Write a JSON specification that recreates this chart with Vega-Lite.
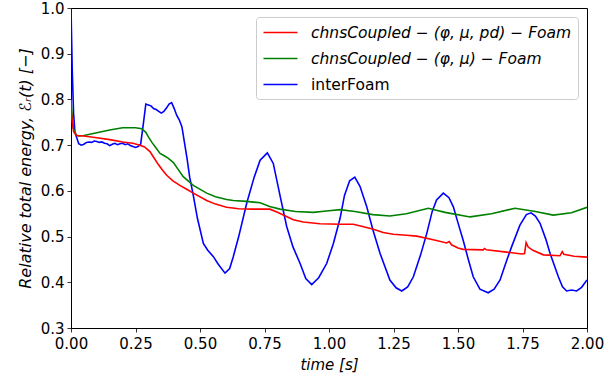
{
  "$schema": "https://vega.github.io/schema/vega-lite/v6.json",
  "width": 516,
  "height": 320,
  "autosize": {"type": "none"},
  "padding": {"left": 71, "top": 8, "right": 26, "bottom": 52},
  "config": {
    "font": "DejaVu Sans",
    "view": {"stroke": "black", "strokeWidth": 1},
    "axis": {"grid": false, "domainColor": "black", "tickColor": "#333333", "tickSize": 4, "labelColor": "black", "titleColor": "black", "labelFontSize": 15, "titleFontSize": 15, "titleFontWeight": "normal", "titleFontStyle": "italic", "labelFont": "DejaVu Sans", "titleFont": "DejaVu Sans", "labelFlush": false}
  },
  "datasets": {
    "curves": [
      {"t":0,"v":1.0,"s":"interFoam"},{"t":0.005,"v":0.86,"s":"interFoam"},{"t":0.01,"v":0.77,"s":"interFoam"},{"t":0.015,"v":0.73,"s":"interFoam"},{"t":0.02,"v":0.72,"s":"interFoam"},{"t":0.03,"v":0.703,"s":"interFoam"},{"t":0.04,"v":0.7,"s":"interFoam"},{"t":0.05,"v":0.702,"s":"interFoam"},{"t":0.06,"v":0.706,"s":"interFoam"},{"t":0.07,"v":0.707,"s":"interFoam"},{"t":0.08,"v":0.706,"s":"interFoam"},{"t":0.09,"v":0.709,"s":"interFoam"},{"t":0.1,"v":0.708,"s":"interFoam"},{"t":0.11,"v":0.706,"s":"interFoam"},{"t":0.12,"v":0.707,"s":"interFoam"},{"t":0.13,"v":0.704,"s":"interFoam"},{"t":0.14,"v":0.703,"s":"interFoam"},{"t":0.15,"v":0.699,"s":"interFoam"},{"t":0.16,"v":0.702,"s":"interFoam"},{"t":0.17,"v":0.704,"s":"interFoam"},{"t":0.18,"v":0.701,"s":"interFoam"},{"t":0.19,"v":0.703,"s":"interFoam"},{"t":0.2,"v":0.704,"s":"interFoam"},{"t":0.21,"v":0.701,"s":"interFoam"},{"t":0.22,"v":0.703,"s":"interFoam"},{"t":0.23,"v":0.699,"s":"interFoam"},{"t":0.24,"v":0.697,"s":"interFoam"},{"t":0.25,"v":0.695,"s":"interFoam"},{"t":0.26,"v":0.697,"s":"interFoam"},{"t":0.27,"v":0.702,"s":"interFoam"},{"t":0.28,"v":0.745,"s":"interFoam"},{"t":0.29,"v":0.79,"s":"interFoam"},{"t":0.3,"v":0.788,"s":"interFoam"},{"t":0.31,"v":0.786,"s":"interFoam"},{"t":0.32,"v":0.78,"s":"interFoam"},{"t":0.33,"v":0.778,"s":"interFoam"},{"t":0.34,"v":0.774,"s":"interFoam"},{"t":0.35,"v":0.77,"s":"interFoam"},{"t":0.36,"v":0.774,"s":"interFoam"},{"t":0.37,"v":0.781,"s":"interFoam"},{"t":0.38,"v":0.79,"s":"interFoam"},{"t":0.39,"v":0.793,"s":"interFoam"},{"t":0.4,"v":0.78,"s":"interFoam"},{"t":0.41,"v":0.765,"s":"interFoam"},{"t":0.42,"v":0.755,"s":"interFoam"},{"t":0.43,"v":0.74,"s":"interFoam"},{"t":0.44,"v":0.705,"s":"interFoam"},{"t":0.45,"v":0.67,"s":"interFoam"},{"t":0.46,"v":0.63,"s":"interFoam"},{"t":0.474,"v":0.59,"s":"interFoam"},{"t":0.49,"v":0.54,"s":"interFoam"},{"t":0.513,"v":0.485,"s":"interFoam"},{"t":0.53,"v":0.47,"s":"interFoam"},{"t":0.552,"v":0.456,"s":"interFoam"},{"t":0.57,"v":0.44,"s":"interFoam"},{"t":0.597,"v":0.42,"s":"interFoam"},{"t":0.615,"v":0.43,"s":"interFoam"},{"t":0.629,"v":0.456,"s":"interFoam"},{"t":0.65,"v":0.5,"s":"interFoam"},{"t":0.681,"v":0.573,"s":"interFoam"},{"t":0.71,"v":0.63,"s":"interFoam"},{"t":0.733,"v":0.667,"s":"interFoam"},{"t":0.761,"v":0.683,"s":"interFoam"},{"t":0.784,"v":0.66,"s":"interFoam"},{"t":0.81,"v":0.59,"s":"interFoam"},{"t":0.836,"v":0.522,"s":"interFoam"},{"t":0.86,"v":0.478,"s":"interFoam"},{"t":0.888,"v":0.441,"s":"interFoam"},{"t":0.91,"v":0.408,"s":"interFoam"},{"t":0.933,"v":0.395,"s":"interFoam"},{"t":0.96,"v":0.41,"s":"interFoam"},{"t":0.991,"v":0.441,"s":"interFoam"},{"t":1.017,"v":0.485,"s":"interFoam"},{"t":1.043,"v":0.54,"s":"interFoam"},{"t":1.06,"v":0.59,"s":"interFoam"},{"t":1.08,"v":0.622,"s":"interFoam"},{"t":1.1,"v":0.63,"s":"interFoam"},{"t":1.12,"v":0.61,"s":"interFoam"},{"t":1.146,"v":0.566,"s":"interFoam"},{"t":1.17,"v":0.515,"s":"interFoam"},{"t":1.198,"v":0.463,"s":"interFoam"},{"t":1.236,"v":0.405,"s":"interFoam"},{"t":1.26,"v":0.388,"s":"interFoam"},{"t":1.282,"v":0.381,"s":"interFoam"},{"t":1.305,"v":0.39,"s":"interFoam"},{"t":1.327,"v":0.412,"s":"interFoam"},{"t":1.355,"v":0.46,"s":"interFoam"},{"t":1.379,"v":0.507,"s":"interFoam"},{"t":1.4,"v":0.555,"s":"interFoam"},{"t":1.417,"v":0.58,"s":"interFoam"},{"t":1.443,"v":0.595,"s":"interFoam"},{"t":1.465,"v":0.585,"s":"interFoam"},{"t":1.482,"v":0.565,"s":"interFoam"},{"t":1.5,"v":0.53,"s":"interFoam"},{"t":1.52,"v":0.492,"s":"interFoam"},{"t":1.54,"v":0.45,"s":"interFoam"},{"t":1.559,"v":0.412,"s":"interFoam"},{"t":1.585,"v":0.385,"s":"interFoam"},{"t":1.617,"v":0.377,"s":"interFoam"},{"t":1.64,"v":0.385,"s":"interFoam"},{"t":1.663,"v":0.405,"s":"interFoam"},{"t":1.69,"v":0.45,"s":"interFoam"},{"t":1.708,"v":0.478,"s":"interFoam"},{"t":1.74,"v":0.525,"s":"interFoam"},{"t":1.765,"v":0.548,"s":"interFoam"},{"t":1.783,"v":0.552,"s":"interFoam"},{"t":1.8,"v":0.545,"s":"interFoam"},{"t":1.818,"v":0.529,"s":"interFoam"},{"t":1.84,"v":0.495,"s":"interFoam"},{"t":1.857,"v":0.463,"s":"interFoam"},{"t":1.889,"v":0.412,"s":"interFoam"},{"t":1.905,"v":0.39,"s":"interFoam"},{"t":1.921,"v":0.381,"s":"interFoam"},{"t":1.94,"v":0.383,"s":"interFoam"},{"t":1.96,"v":0.381,"s":"interFoam"},{"t":1.979,"v":0.389,"s":"interFoam"},{"t":2.0,"v":0.405,"s":"interFoam"},

      {"t":0,"v":0.8,"s":"B"},{"t":0.005,"v":0.76,"s":"B"},{"t":0.01,"v":0.735,"s":"B"},{"t":0.02,"v":0.722,"s":"B"},{"t":0.03,"v":0.72,"s":"B"},{"t":0.05,"v":0.721,"s":"B"},{"t":0.1,"v":0.727,"s":"B"},{"t":0.15,"v":0.733,"s":"B"},{"t":0.2,"v":0.738,"s":"B"},{"t":0.25,"v":0.738,"s":"B"},{"t":0.274,"v":0.736,"s":"B"},{"t":0.29,"v":0.728,"s":"B"},{"t":0.3,"v":0.718,"s":"B"},{"t":0.315,"v":0.705,"s":"B"},{"t":0.332,"v":0.692,"s":"B"},{"t":0.345,"v":0.682,"s":"B"},{"t":0.358,"v":0.678,"s":"B"},{"t":0.375,"v":0.672,"s":"B"},{"t":0.397,"v":0.662,"s":"B"},{"t":0.415,"v":0.647,"s":"B"},{"t":0.435,"v":0.631,"s":"B"},{"t":0.474,"v":0.612,"s":"B"},{"t":0.526,"v":0.595,"s":"B"},{"t":0.56,"v":0.587,"s":"B"},{"t":0.603,"v":0.581,"s":"B"},{"t":0.629,"v":0.579,"s":"B"},{"t":0.68,"v":0.577,"s":"B"},{"t":0.733,"v":0.574,"s":"B"},{"t":0.77,"v":0.566,"s":"B"},{"t":0.81,"v":0.56,"s":"B"},{"t":0.87,"v":0.555,"s":"B"},{"t":0.939,"v":0.553,"s":"B"},{"t":0.99,"v":0.556,"s":"B"},{"t":1.043,"v":0.559,"s":"B"},{"t":1.1,"v":0.555,"s":"B"},{"t":1.17,"v":0.548,"s":"B"},{"t":1.236,"v":0.545,"s":"B"},{"t":1.3,"v":0.55,"s":"B"},{"t":1.385,"v":0.562,"s":"B"},{"t":1.45,"v":0.553,"s":"B"},{"t":1.547,"v":0.543,"s":"B"},{"t":1.63,"v":0.55,"s":"B"},{"t":1.721,"v":0.562,"s":"B"},{"t":1.8,"v":0.555,"s":"B"},{"t":1.869,"v":0.547,"s":"B"},{"t":1.94,"v":0.552,"s":"B"},{"t":2.0,"v":0.564,"s":"B"},

      {"t":0,"v":0.78,"s":"A"},{"t":0.005,"v":0.75,"s":"A"},{"t":0.01,"v":0.73,"s":"A"},{"t":0.02,"v":0.721,"s":"A"},{"t":0.05,"v":0.72,"s":"A"},{"t":0.1,"v":0.716,"s":"A"},{"t":0.15,"v":0.712,"s":"A"},{"t":0.2,"v":0.707,"s":"A"},{"t":0.24,"v":0.704,"s":"A"},{"t":0.267,"v":0.7,"s":"A"},{"t":0.285,"v":0.696,"s":"A"},{"t":0.306,"v":0.686,"s":"A"},{"t":0.322,"v":0.672,"s":"A"},{"t":0.338,"v":0.658,"s":"A"},{"t":0.355,"v":0.645,"s":"A"},{"t":0.371,"v":0.634,"s":"A"},{"t":0.395,"v":0.622,"s":"A"},{"t":0.422,"v":0.612,"s":"A"},{"t":0.45,"v":0.603,"s":"A"},{"t":0.474,"v":0.595,"s":"A"},{"t":0.526,"v":0.579,"s":"A"},{"t":0.56,"v":0.571,"s":"A"},{"t":0.603,"v":0.564,"s":"A"},{"t":0.65,"v":0.561,"s":"A"},{"t":0.7,"v":0.56,"s":"A"},{"t":0.771,"v":0.56,"s":"A"},{"t":0.8,"v":0.553,"s":"A"},{"t":0.862,"v":0.537,"s":"A"},{"t":0.9,"v":0.532,"s":"A"},{"t":0.965,"v":0.528,"s":"A"},{"t":1.043,"v":0.527,"s":"A"},{"t":1.094,"v":0.527,"s":"A"},{"t":1.13,"v":0.522,"s":"A"},{"t":1.172,"v":0.516,"s":"A"},{"t":1.21,"v":0.509,"s":"A"},{"t":1.249,"v":0.505,"s":"A"},{"t":1.3,"v":0.503,"s":"A"},{"t":1.34,"v":0.501,"s":"A"},{"t":1.404,"v":0.493,"s":"A"},{"t":1.456,"v":0.486,"s":"A"},{"t":1.466,"v":0.489,"s":"A"},{"t":1.475,"v":0.482,"s":"A"},{"t":1.5,"v":0.475,"s":"A"},{"t":1.52,"v":0.472,"s":"A"},{"t":1.598,"v":0.471,"s":"A"},{"t":1.603,"v":0.474,"s":"A"},{"t":1.61,"v":0.471,"s":"A"},{"t":1.688,"v":0.466,"s":"A"},{"t":1.747,"v":0.462,"s":"A"},{"t":1.758,"v":0.463,"s":"A"},{"t":1.764,"v":0.487,"s":"A"},{"t":1.772,"v":0.477,"s":"A"},{"t":1.79,"v":0.47,"s":"A"},{"t":1.831,"v":0.46,"s":"A"},{"t":1.895,"v":0.458,"s":"A"},{"t":1.904,"v":0.467,"s":"A"},{"t":1.91,"v":0.461,"s":"A"},{"t":1.95,"v":0.457,"s":"A"},{"t":2.0,"v":0.455,"s":"A"}
    ]
  },
  "data": {"name": "curves"},
  "transform": [
    {"calculate": "datum.s === 'A' ? 'chnsCoupled − (φ, μ, pd) − Foam' : datum.s === 'B' ? 'chnsCoupled − (φ, μ) − Foam' : 'interFoam'", "as": "series"}
  ],
  "mark": {"type": "line", "strokeWidth": 1.6, "clip": true},
  "encoding": {
    "x": {"field": "t", "type": "quantitative", "scale": {"domain": [0, 2], "nice": false},
      "axis": {"values": [0, 0.25, 0.5, 0.75, 1, 1.25, 1.5, 1.75, 2], "format": ".2f", "title": "time [s]", "titlePadding": 6, "labelPadding": 4}},
    "y": {"field": "v", "type": "quantitative", "scale": {"domain": [0.3, 1.0], "nice": false, "zero": false},
      "axis": {"values": [0.3, 0.4, 0.5, 0.6, 0.7, 0.8, 0.9, 1.0], "format": ".1f", "title": "Relative total energy,  ℰᵣ(t) [−]", "titleFontSize": 16, "titlePadding": 7, "labelPadding": 3}},
    "color": {"field": "series", "type": "nominal",
      "scale": {"domain": ["chnsCoupled − (φ, μ, pd) − Foam", "chnsCoupled − (φ, μ) − Foam", "interFoam"], "range": ["#ff0000", "#008000", "#0000ff"]},
      "legend": {"title": null, "orient": "top-right", "offset": 9, "symbolType": "M-2,0H2", "symbolStrokeWidth": 1.6, "symbolSize": 289, "symbolOffset": 9, "labelFontSize": 15.5, "labelFont": "DejaVu Sans", "labelColor": "black", "labelLimit": 0, "fillColor": "white", "strokeColor": "#cccccc", "cornerRadius": 3, "padding": 6, "rowPadding": 8, "labelOffset": 21,
        "encode": {"labels": {"update": {"fontStyle": {"signal": "datum.value === 'interFoam' ? 'normal' : 'italic'"}}}}}
    },
    "order": {"field": "t", "type": "quantitative"}
  }
}
